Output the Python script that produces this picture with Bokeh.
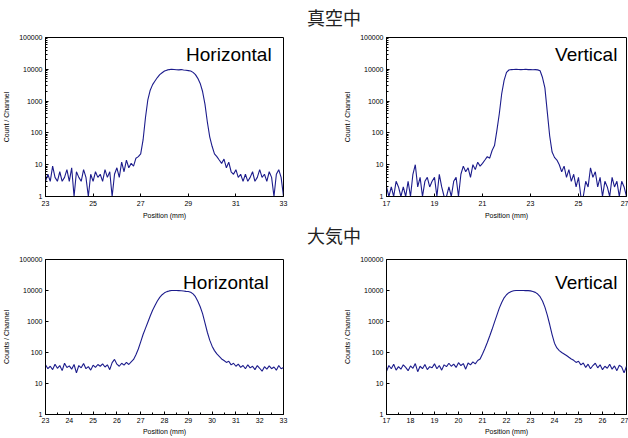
from bokeh.plotting import figure
from bokeh.models import Range1d, FixedTicker, NumeralTickFormatter, Label, Div
from bokeh.layouts import column, row
from bokeh.embed import file_html
from bokeh.resources import INLINE

# ---------------- data ----------------
pos_h = [23.0, 23.1, 23.2, 23.3, 23.4, 23.5, 23.6, 23.7, 23.8, 23.9,
         24.0, 24.1, 24.2, 24.3, 24.4, 24.5, 24.6, 24.7, 24.8, 24.9,
         25.0, 25.1, 25.2, 25.3, 25.4, 25.5, 25.6, 25.7, 25.8, 25.9,
         26.0, 26.1, 26.2, 26.3, 26.4, 26.5, 26.6, 26.7, 26.8, 26.9,
         27.0, 27.1, 27.2, 27.3, 27.4, 27.5, 27.6, 27.7, 27.8, 27.9,
         28.0, 28.1, 28.2, 28.3, 28.4, 28.5, 28.6, 28.7, 28.8, 28.9,
         29.0, 29.1, 29.2, 29.3, 29.4, 29.5, 29.6, 29.7, 29.8, 29.9,
         30.0, 30.1, 30.2, 30.3, 30.4, 30.5, 30.6, 30.7, 30.8, 30.9,
         31.0, 31.1, 31.2, 31.3, 31.4, 31.5, 31.6, 31.7, 31.8, 31.9,
         32.0, 32.1, 32.2, 32.3, 32.4, 32.5, 32.6, 32.7, 32.8, 32.9,
         33.0]
pos_v = [17.0, 17.1, 17.2, 17.3, 17.4, 17.5, 17.6, 17.7, 17.8, 17.9,
         18.0, 18.1, 18.2, 18.3, 18.4, 18.5, 18.6, 18.7, 18.8, 18.9,
         19.0, 19.1, 19.2, 19.3, 19.4, 19.5, 19.6, 19.7, 19.8, 19.9,
         20.0, 20.1, 20.2, 20.3, 20.4, 20.5, 20.6, 20.7, 20.8, 20.9,
         21.0, 21.1, 21.2, 21.3, 21.4, 21.5, 21.6, 21.7, 21.8, 21.9,
         22.0, 22.1, 22.2, 22.3, 22.4, 22.5, 22.6, 22.7, 22.8, 22.9,
         23.0, 23.1, 23.2, 23.3, 23.4, 23.5, 23.6, 23.7, 23.8, 23.9,
         24.0, 24.1, 24.2, 24.3, 24.4, 24.5, 24.6, 24.7, 24.8, 24.9,
         25.0, 25.1, 25.2, 25.3, 25.4, 25.5, 25.6, 25.7, 25.8, 25.9,
         26.0, 26.1, 26.2, 26.3, 26.4, 26.5, 26.6, 26.7, 26.8, 26.9,
         27.0]

vac_h = [3, 5, 3, 9, 4, 3, 6, 3, 4, 7,
         3, 8, 1, 6, 4, 3, 7, 4, 1, 5,
         3, 6, 4, 5, 3, 7, 4, 6, 1, 5,
         8, 4, 12, 6, 14, 8, 11, 9, 16, 18,
         22, 60, 300, 1100, 2200, 3300, 4300, 5500, 6800, 7800,
         8800, 9400, 9800, 10000, 9900, 9700, 9600, 9800, 9500, 9300,
         9100, 8800, 8000, 6800, 5200, 3600, 2000, 800, 220, 75,
         38, 22, 18, 14, 11, 15, 8, 12, 6, 5,
         7, 4, 5, 3, 5, 3, 4, 6, 3, 4,
         7, 4, 5, 3, 6, 4, 1, 5, 7, 4,
         1]
vac_v = [2, 1, 2, 1, 3, 2, 1, 2, 1, 3,
         1, 5, 10, 2, 4, 1, 3, 4, 2, 3,
         4, 1, 5, 2, 1, 1, 2, 1, 3, 4,
         1, 5, 9, 6, 8, 4, 10, 7, 12, 9,
         11, 14, 18, 16, 28, 40, 120, 400, 1700, 4500,
         8000, 9500, 9800, 9900, 10000, 9900, 9800, 9900, 10000, 9800,
         9900, 9700, 9800, 9600, 9000, 5500, 2600, 450, 80, 25,
         17, 14, 10, 6, 9, 4, 7, 3, 5, 2,
         4, 1, 1, 3, 2, 8, 4, 6, 2, 4,
         1, 3, 2, 1, 4, 2, 3, 1, 3, 2,
         1]
air_h = [40, 30, 36, 28, 42, 31, 38, 26, 45, 33,
         37, 29, 41, 22, 38, 32, 44, 30, 35, 27,
         39, 33, 41, 36, 43, 34, 40, 28, 47, 60,
         42, 36, 45, 39, 48, 41, 50, 60, 85, 130,
         220, 380, 600, 950, 1500, 2300, 3300, 4600, 6000, 7300,
         8400, 9200, 9700, 10000, 10000, 10000, 9900, 9800, 9600, 9400,
         9300, 8800, 7800, 6300, 4500, 3000, 1800, 900, 450, 250,
         160, 115, 90, 75, 62, 55, 48, 52, 40, 45,
         36, 42, 33, 38, 30, 40, 32, 36, 28, 38,
         31, 25, 35, 29, 37, 30, 34, 27, 38, 30,
         33]
air_v = [25, 38, 30, 42, 27, 35, 29, 40, 33, 26,
         37, 31, 44, 24, 36, 30, 41, 28, 35, 32,
         43, 30, 38, 27, 40, 35, 45, 36, 42, 33,
         47, 38, 44, 29, 46, 40, 50, 43, 55, 62,
         90, 135, 210, 340, 560, 950, 1600, 2700, 4100, 5800,
         7300, 8500, 9300, 9800, 10000, 10000, 10000, 10000, 9900, 9900,
         9700, 9300, 8700, 7700, 6300, 4600, 2900, 1600, 800, 380,
         200, 140, 115, 100, 90, 80, 70, 62, 56, 48,
         52, 40, 46, 33, 42, 30, 38, 45, 32, 40,
         28, 36, 31, 42, 29, 37, 26, 39, 34, 22,
         36]

title_vac = "真空中"
title_air = "大気中"
word_h = "Horizontal"
word_v = "Vertical"
xlabel = "Position (mm)"
ylabel_vac = "Count / Channel"
ylabel_air = "Counts / Channel"

y_ticks = [1, 10, 100, 1000, 10000, 100000]
y_minor = [2, 3, 4, 5, 6, 7, 8, 9,
           20, 30, 40, 50, 60, 70, 80, 90,
           200, 300, 400, 500, 600, 700, 800, 900,
           2000, 3000, 4000, 5000, 6000, 7000, 8000, 9000,
           20000, 30000, 40000, 50000, 60000, 70000, 80000, 90000]
xt_vac_h = [23, 25, 27, 29, 31, 33]
xt_vac_v = [17, 19, 21, 23, 25, 27]
xt_air_h = [23, 24, 25, 26, 27, 28, 29, 30, 31, 32, 33]
xt_air_v = [17, 18, 19, 20, 21, 22, 23, 24, 25, 26, 27]
xm_air_h = [23.5, 24.5, 25.5, 26.5, 27.5, 28.5, 29.5, 30.5, 31.5, 32.5]
xm_air_v = [17.5, 18.5, 19.5, 20.5, 21.5, 22.5, 23.5, 24.5, 25.5, 26.5]

LINE = "#1c1c8c"
FONT = "Liberation Sans"


def make_fig(xs, ys, xr, xticks, xminor, yminor, ylabel, word, wx, wy,
             width, height, bl, br, bt, bb, lab_std, axlab_std):
    p = figure(width=width, height=height, x_range=Range1d(xr[0], xr[1]),
               y_range=Range1d(1, 100000), y_axis_type="log",
               output_backend="svg", toolbar_location=None,
               min_border_left=bl, min_border_right=br,
               min_border_top=bt, min_border_bottom=bb, margin=0)
    p.line(xs, ys, line_color=LINE, line_width=1.1)
    p.outline_line_color = "black"
    p.outline_line_alpha = 1
    p.outline_line_width = 1
    p.grid.visible = False
    p.background_fill_color = "white"
    p.border_fill_color = "white"
    p.xaxis.ticker = FixedTicker(ticks=xticks, minor_ticks=xminor)
    p.yaxis.ticker = FixedTicker(ticks=y_ticks, minor_ticks=yminor)
    p.yaxis.formatter = NumeralTickFormatter(format="0")
    for ax in (p.xaxis[0], p.yaxis[0]):
        ax.major_tick_in = 3
        ax.major_tick_out = 0
        ax.minor_tick_in = 2
        ax.minor_tick_out = 0
        ax.axis_line_color = "black"
        ax.major_tick_line_color = "black"
        ax.minor_tick_line_color = "black"
        ax.major_label_text_font = FONT
        ax.major_label_text_font_size = "7px"
        ax.major_label_text_color = "black"
        ax.axis_label_text_font = FONT
        ax.axis_label_text_font_size = "7px"
        ax.axis_label_text_font_style = "normal"
        ax.axis_label_text_color = "black"
    p.xaxis.major_label_standoff = lab_std
    p.xaxis.axis_label_standoff = axlab_std
    p.yaxis.major_label_standoff = 3
    p.yaxis.axis_label_standoff = 6
    p.xaxis.axis_label = xlabel
    p.yaxis.axis_label = ylabel
    p.add_layout(Label(x=wx, y=wy, text=word, text_align="right",
                       text_baseline="alphabetic", text_font=FONT,
                       text_font_size="19px", text_color="black"))
    return p


f1 = make_fig(pos_h, vac_h, (23, 33), xt_vac_h, [], y_minor, ylabel_vac,
              word_h, 32.5, 29000, 290, 194, 43, 7, 9, 26, 4, 3)
f2 = make_fig(pos_v, vac_v, (17, 27), xt_vac_v, [], y_minor, ylabel_vac,
              word_v, 26.62, 29000, 338, 194, 96, 2, 9, 26, 4, 3)
f3 = make_fig(pos_h, air_h, (23, 33), xt_air_h, xm_air_h, [], ylabel_air,
              word_h, 32.375, 18000, 290, 189, 43, 7, 11, 22, 3, 2)
f4 = make_fig(pos_v, air_v, (17, 27), xt_air_v, xm_air_v, [], ylabel_air,
              word_v, 26.62, 18000, 338, 189, 96, 2, 11, 22, 3, 2)


def head(txt, h, pad_top):
    return Div(text=("<div style=\"padding-left:307px;padding-top:%dpx;"
                     "font-size:18px;line-height:20px;"
                     "font-family:'Noto Sans CJK JP';color:#222;"
                     "white-space:nowrap;margin:0\">%s</div>")
               % (pad_top, txt),
               width=628, height=h, margin=0)


layout = column(head(title_vac, 28, 7), row(f1, f2, margin=0, spacing=0),
                head(title_air, 26, 3), row(f3, f4, margin=0, spacing=0),
                spacing=0, margin=0)

open("out.html", "w").write(file_html(layout, INLINE))
